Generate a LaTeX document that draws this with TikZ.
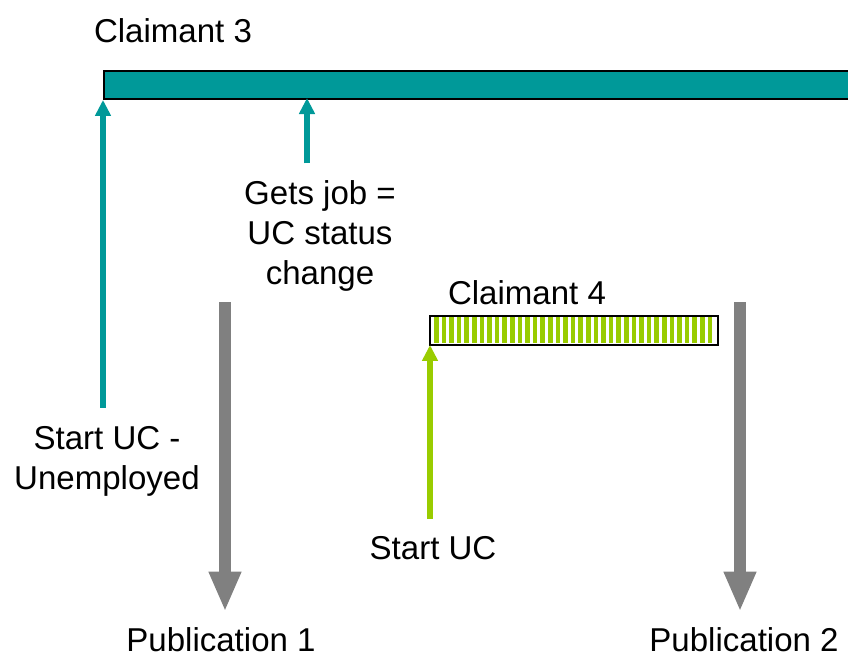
\documentclass[tikz,border=0pt]{standalone}
\usepackage{fontspec}
\setmainfont{Liberation Sans}
\usetikzlibrary{arrows.meta}
\definecolor{ucteal}{HTML}{009999}
\definecolor{ucgreen}{HTML}{99CC00}
\definecolor{ucgray}{HTML}{808080}
\begin{document}
\begin{tikzpicture}[x=0.025cm, y=-0.025cm, font=\fontsize{23.5}{28.5}\selectfont, line join=miter, >=Triangle]
	\tikzset{
		lbl/.style={inner sep=0pt, align=center},
		bar/.style={inner sep=0pt, anchor=north west, line width=1.4pt},
		tealarrow/.style={ucteal, line width=4.2pt, -{Triangle[length=0.4cm, width=0.38cm]}},
		greenarrow/.style={ucgreen, line width=4.2pt, -{Triangle[length=0.4cm, width=0.38cm]}},
		grayarrow/.style={ucgray, line width=8.5pt, -{Triangle[length=1cm, width=0.75cm]}}
	}
	%Picture frame
	\useasboundingbox (0,0) rectangle (848,657);
	
	%Claimant 3
	\node[lbl] (lab3) at (173,31) {Claimant 3};
	\node[bar, draw=black, fill=ucteal, minimum width=19.5cm, minimum height=0.7cm] (bar3) at (103,70) {};
	\coordinate (jobtip) at (307,98);
	
	%Claimant 4: striped bar
	\node[lbl] (lab4) at (527,293) {Claimant 4};
	\node[bar, minimum width=7.15cm, minimum height=0.675cm] (bar4) at (430,316) {};
	\foreach \i in {0,...,36}
		\fill[ucgreen] ([xshift=\i*0.19cm+0.1cm]bar4.north west) rectangle ++(0.115cm,-0.675cm);
	\draw[line width=1.4pt] (bar4.south west) rectangle (bar4.north east);
	
	%Labels
	\node[lbl] (startA) at (107,461) {Start UC -\\Unemployed};
	\node[lbl] (job) at (320,236) {Gets job =\\UC status\\change};
	\node[lbl] (startB) at (433,548) {Start UC};
	\node[lbl] (pubA) at (221,640) {Publication 1};
	\node[lbl] (pubB) at (744,640) {Publication 2};
	
	%Arrows into the bars
	\draw[tealarrow, shorten <=0.45cm] (startA.north -| bar3.south west) -- (bar3.south west);
	\draw[tealarrow, shorten <=0.42cm] (job.north -| jobtip) -- (jobtip);
	\draw[greenarrow, shorten <=0.42cm] (startB.north -| bar4.south west) -- (bar4.south west);
	
	%Publication dates
	\coordinate (pubtopA) at (225,302);
	\coordinate (pubtopB) at (740,302);
	\draw[grayarrow, shorten >=0.4cm] (pubtopA) -- (pubtopA |- pubA.north);
	\draw[grayarrow, shorten >=0.4cm] (pubtopB) -- (pubtopB |- pubB.north);
\end{tikzpicture}
\end{document}
